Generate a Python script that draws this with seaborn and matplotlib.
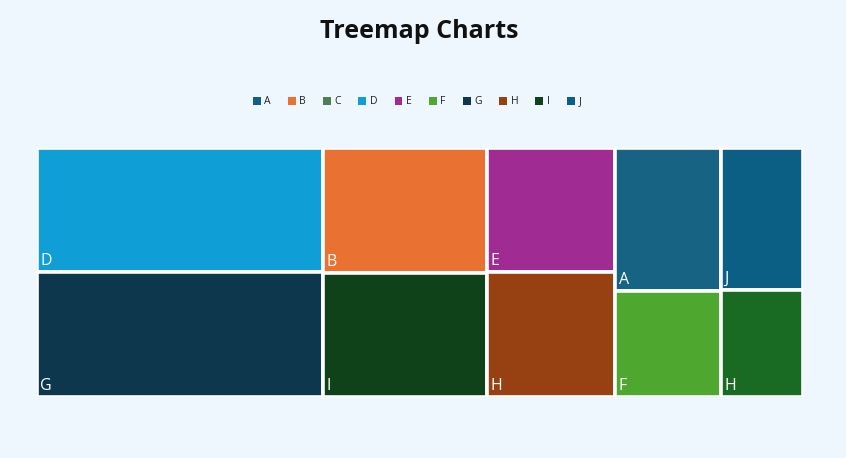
import matplotlib
matplotlib.use("Agg")
import matplotlib.pyplot as plt
from matplotlib.patches import Patch
import seaborn as sns

# legend entries
legend_names = ["A", "B", "C", "D", "E", "F", "G", "H", "I", "J"]
legend_colors = ["#156082", "#E97132", "#4E7F53", "#0F9ED5", "#A02B93",
                 "#4EA72E", "#0C374D", "#974011", "#10421A", "#0B5E84"]

# treemap tiles, grouped in columns (left to right, top to bottom)
columns = [["D", "G"], ["B", "I"], ["E", "H"], ["A", "F"], ["J", "H"]]
values = [[186, 187], [107, 107], [83, 84], [79, 59], [61, 46]]
tile_colors = [["#0F9ED5", "#0C374D"], ["#E97132", "#10421A"],
               ["#A02B93", "#974011"], ["#166383", "#4EA72E"],
               ["#0B5E84", "#196B24"]]

BG = "#EFF7FE"

sns.set_theme(style="white")
plt.rcParams["font.family"] = ["Open Sans", "DejaVu Sans"]

fig = plt.figure(figsize=(8.46, 4.58), dpi=100, facecolor=BG)
ax = fig.add_axes([37 / 846, 1 - 397 / 458, 766 / 846, 249 / 458])
ax.set_facecolor(BG)

total = sum(sum(c) for c in values)
left = 0
for names, vals, cols in zip(columns, values, tile_colors):
    width = sum(vals)
    top = 0
    for name, v, c in zip(names, vals, cols):
        h = v / width
        ax.bar(left, h, width=width, bottom=top, align="edge", color=c,
               edgecolor="white", linewidth=2.6)
        ax.annotate(name, xy=(left, top + h), xytext=(2.5, 2),
                    textcoords="offset points", ha="left", va="bottom",
                    color="white", fontsize=11.5)
        top += h
    left += width

ax.set_xlim(0, total)
ax.set_ylim(1, 0)
ax.axis("off")

fig.text(0.496, 1 - 31 / 458, "Treemap Charts", ha="center", va="center",
         fontsize=18, fontweight="bold", color="#111111")

handles = [Patch(facecolor=c, edgecolor="none", label=n)
           for n, c in zip(legend_names, legend_colors)]
fig.legend(handles=handles, loc="center", bbox_to_anchor=(0.493, 1 - 102 / 458),
           ncol=10, frameon=False, fontsize=7.5, handlelength=0.75,
           handleheight=0.75, handletextpad=0.35, columnspacing=1.65,
           labelcolor="#222222")

fig.savefig("out.png", dpi=100, facecolor=BG)
